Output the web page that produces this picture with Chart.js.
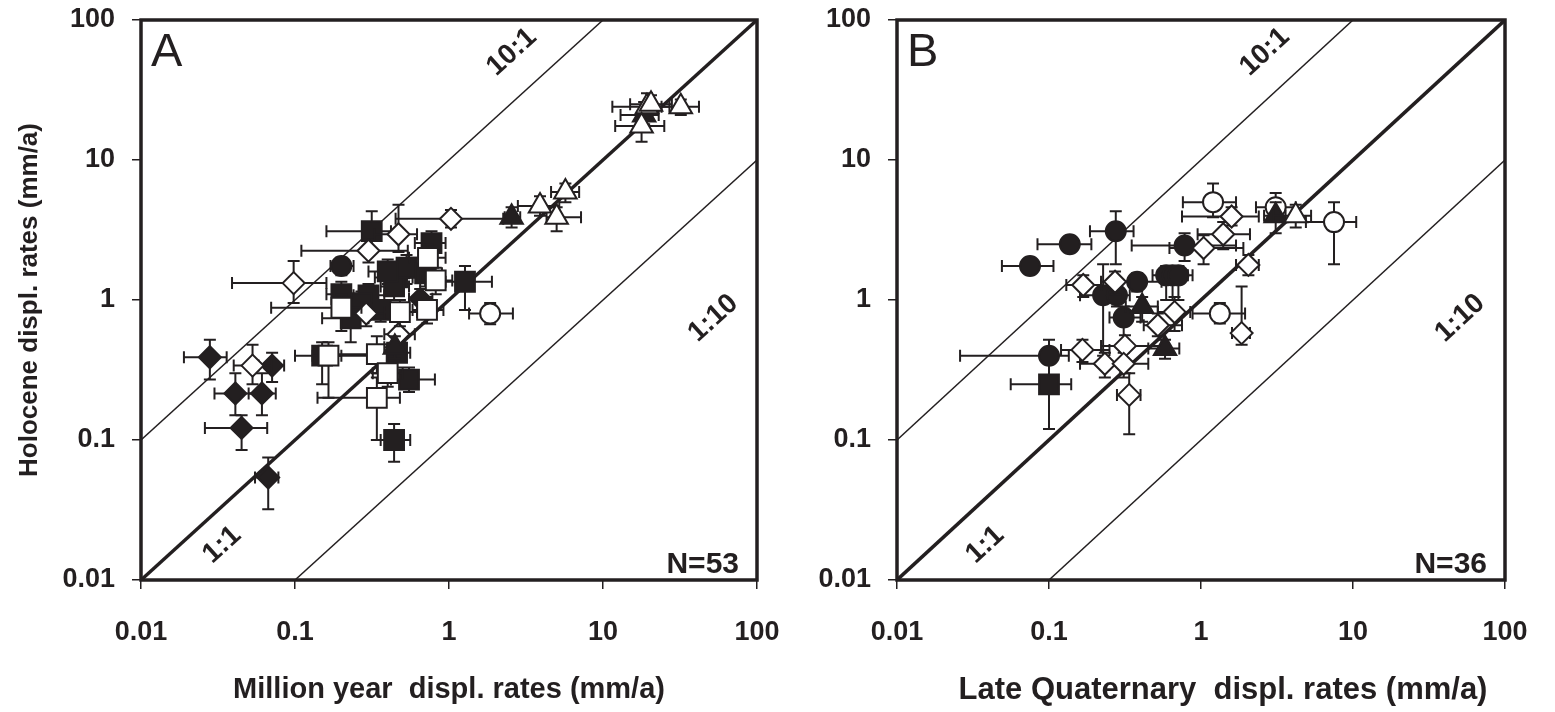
<!DOCTYPE html>
<html lang="en">
<head>
  <meta charset="UTF-8">
  <title>Holocene vs. long-term displacement rates</title>
  <script src="https://cdn.jsdelivr.net/npm/chart.js"></script>
  <style>
    body {
      margin: 0;
      background: #fff;
      width: 1555px;
      height: 712px;
      overflow: hidden;
      position: relative;
    }
    .panel { position: absolute; top: 0; }
    #panelA { left: 0; }
    #panelB { left: 800px; }
  </style>
</head>
<body>
  <div class="panel" id="panelA"><canvas id="chartA" width="800" height="712"></canvas></div>
  <div class="panel" id="panelB"><canvas id="chartB" width="755" height="712"></canvas></div>

  <script>
    // log axes, same on both panels
    const tickValues = [0.01, 0.1, 1, 10, 100];
    const tickLabels = ['0.01', '0.1', '1', '10', '100'];

    // reference lines (Holocene : long-term)
    const line1to1 = [[0.01, 0.01], [100, 100]];
    const line10to1 = [[0.01, 0.1], [10, 100]];
    const line1to10 = [[0.1, 0.01], [100, 10]];

    // each point: [x, y, xLow, xHigh, yLow, yHigh]
    // Panel A - million year rates
    const aFilledDiamond = [
      [0.028, 0.39, 0.019, 0.036, 0.27, 0.52],
      [0.071, 0.34, 0.058, 0.085, 0.26, 0.42],
      [0.041, 0.215, 0.030, 0.060, 0.15, 0.30],
      [0.061, 0.215, 0.050, 0.075, 0.15, 0.30],
      [0.045, 0.122, 0.026, 0.066, 0.085, 0.15],
      [0.067, 0.054, 0.055, 0.078, 0.032, 0.075],
      [0.65, 1.02, 0.55, 0.78, 0.85, 1.2]
    ];
    const aOpenDiamond = [
      [0.098, 1.32, 0.039, 0.16, 0.95, 1.9],
      [0.30, 2.25, 0.11, 0.54, 1.85, 2.7],
      [0.47, 2.95, 0.33, 0.62, 2.2, 4.8],
      [1.03, 3.8, 0.45, 2.25, 3.3, 4.4],
      [0.053, 0.34, 0.04, 0.07, 0.25, 0.48],
      [0.29, 0.80, 0.22, 0.38, 0.65, 0.95],
      [0.47, 0.57, 0.38, 0.60, 0.45, 0.7]
    ];
    const aFilledSquare = [
      [0.315, 3.1, 0.16, 0.42, 2.3, 4.3],
      [0.20, 1.10, 0.16, 0.26, 0.9, 1.35],
      [0.23, 0.74, 0.15, 0.30, 0.50, 0.85],
      [0.30, 1.08, 0.24, 0.38, 0.9, 1.3],
      [0.36, 0.85, 0.30, 0.43, 0.7, 1.0],
      [0.46, 1.45, 0.33, 0.58, 1.1, 1.8],
      [0.44, 1.25, 0.36, 0.55, 1.0, 1.5],
      [0.53, 1.70, 0.42, 0.68, 1.3, 2.1],
      [0.77, 2.55, 0.60, 0.95, 2.0, 3.1],
      [0.70, 1.55, 0.55, 0.90, 1.25, 1.9],
      [1.27, 1.35, 0.95, 1.9, 0.85, 1.75],
      [0.15, 0.40, 0.10, 0.20, 0.25, 0.5],
      [0.46, 0.42, 0.38, 0.56, 0.33, 0.52],
      [0.55, 0.27, 0.42, 0.81, 0.22, 0.33],
      [0.44, 0.10, 0.36, 0.56, 0.07, 0.13],
      [0.40, 1.6, 0.30, 0.50, 1.3, 1.95],
      [0.27, 0.95, 0.21, 0.34, 0.8, 1.15]
    ];
    const aOpenSquare = [
      [0.20, 0.88, 0.07, 0.27, 0.6, 1.1],
      [0.73, 2.0, 0.55, 0.95, 1.6, 2.5],
      [0.82, 1.38, 0.65, 1.05, 1.1, 1.7],
      [0.48, 0.82, 0.38, 0.62, 0.65, 1.0],
      [0.72, 0.85, 0.58, 0.92, 0.68, 1.05],
      [0.165, 0.40, 0.13, 0.36, 0.20, 0.50],
      [0.34, 0.41, 0.15, 0.45, 0.30, 0.55],
      [0.40, 0.30, 0.32, 0.50, 0.24, 0.37],
      [0.34, 0.20, 0.14, 0.48, 0.10, 0.28]
    ];
    const aFilledCircle = [
      [0.20, 1.75, 0.17, 0.24, 1.5, 2.0]
    ];
    const aOpenCircle = [
      [1.85, 0.80, 1.35, 2.6, 0.67, 0.95]
    ];
    const aFilledTriangle = [
      [2.55, 3.9, 2.3, 2.9, 3.3, 4.6],
      [0.445, 0.46, 0.38, 0.52, 0.38, 0.55],
      [18.5, 21, 13, 23, 18, 26]
    ];
    const aOpenTriangle = [
      [19.3, 24, 11.5, 27, 20, 30],
      [20.5, 25, 15, 28, 21, 29],
      [32, 24, 24, 42, 21, 27],
      [17.8, 17.5, 12, 25, 13.5, 21],
      [3.9, 4.7, 2.8, 5.2, 4.0, 5.5],
      [5.7, 5.9, 4.6, 7.0, 5.0, 6.8],
      [5.0, 3.9, 4.3, 7.2, 3.1, 4.6]
    ];

    // Panel B - late Quaternary rates
    const bFilledCircle = [
      [0.075, 1.75, 0.049, 0.107, 1.55, 1.95],
      [0.137, 2.5, 0.084, 0.19, 2.25, 2.8],
      [0.275, 3.1, 0.186, 0.36, 1.8, 4.3],
      [0.227, 1.08, 0.16, 0.30, 0.40, 1.8],
      [0.28, 1.08, 0.22, 0.34, 0.9, 1.3],
      [0.38, 1.35, 0.28, 0.55, 1.15, 1.55],
      [0.31, 0.75, 0.25, 0.40, 0.45, 0.9],
      [0.59, 1.5, 0.48, 0.75, 1.0, 1.75],
      [0.65, 1.5, 0.52, 0.82, 1.0, 1.75],
      [0.71, 1.5, 0.58, 0.88, 1.0, 1.75],
      [0.78, 2.45, 0.35, 1.7, 1.9, 3.0],
      [0.10, 0.40, 0.026, 0.135, 0.26, 0.52]
    ];
    const bFilledTriangle = [
      [0.41, 0.9, 0.32, 0.52, 0.7, 1.05],
      [0.58, 0.45, 0.45, 0.72, 0.38, 0.52],
      [3.1, 4.0, 2.6, 3.6, 3.0, 5.0]
    ];
    const bFilledSquare = [
      [0.10, 0.25, 0.056, 0.14, 0.12, 0.36]
    ];
    const bOpenCircle = [
      [1.2, 5.0, 0.76, 1.7, 3.9, 6.8],
      [3.1, 4.6, 2.3, 4.2, 3.6, 5.8],
      [7.5, 3.6, 4.9, 10.5, 1.8, 5.0],
      [1.33, 0.80, 0.88, 1.95, 0.68, 0.95]
    ];
    const bOpenTriangle = [
      [4.2, 4.0, 3.0, 5.3, 3.3, 4.8]
    ];
    const bOpenDiamond = [
      [0.168, 1.28, 0.13, 0.22, 1.05, 1.5],
      [0.272, 1.35, 0.22, 0.34, 1.1, 1.6],
      [1.04, 2.35, 0.62, 1.9, 1.8, 2.9],
      [1.59, 3.95, 0.75, 2.4, 3.4, 4.6],
      [1.4, 2.95, 0.95, 2.1, 2.3, 3.6],
      [0.67, 0.82, 0.52, 0.85, 0.60, 1.05],
      [0.52, 0.66, 0.42, 0.75, 0.55, 0.80],
      [1.85, 0.58, 1.6, 2.1, 0.48, 1.25],
      [2.05, 1.78, 1.7, 2.4, 1.5, 2.1],
      [0.166, 0.44, 0.12, 0.25, 0.36, 0.52],
      [0.316, 0.47, 0.22, 0.55, 0.30, 0.56],
      [0.233, 0.35, 0.16, 0.31, 0.28, 0.42],
      [0.31, 0.35, 0.25, 0.45, 0.28, 0.42],
      [0.337, 0.21, 0.28, 0.40, 0.11, 0.30]
    ];

    const INK = '#231f20';
    const FONT = '"Liberation Sans", Arial, Helvetica, sans-serif';
    Chart.defaults.font.family = FONT;
    Chart.defaults.color = INK;

    const markerStyles = {
      filledDiamond:  { pointStyle: 'rectRot',  radius: 11, fill: INK },
      openDiamond:    { pointStyle: 'rectRot',  radius: 11, fill: '#fff' },
      filledSquare:   { pointStyle: 'rect',     radius: 14, fill: INK },
      openSquare:     { pointStyle: 'rect',     radius: 14, fill: '#fff' },
      filledCircle:   { pointStyle: 'circle',   radius: 10, fill: INK },
      openCircle:     { pointStyle: 'circle',   radius: 10, fill: '#fff' },
      filledTriangle: { pointStyle: 'triangle', radius: 13, fill: INK },
      openTriangle:   { pointStyle: 'triangle', radius: 13, fill: '#fff' }
    };

    function series(rows, kind, order) {
      const s = markerStyles[kind];
      return {
        type: 'scatter',
        errorBars: true,
        order: order,
        data: rows.map(r => ({ x: r[0], y: r[1], xlo: r[2], xhi: r[3], ylo: r[4], yhi: r[5] })),
        pointStyle: s.pointStyle,
        pointRadius: s.radius,
        pointBackgroundColor: s.fill,
        pointBorderColor: INK,
        pointBorderWidth: 2
      };
    }

    function refLine(pts, width) {
      return {
        type: 'scatter',
        order: 100,
        showLine: true,
        data: pts.map(p => ({ x: p[0], y: p[1] })),
        borderColor: INK,
        borderWidth: width,
        pointRadius: 0
      };
    }

    // whiskers drawn just before each series' markers
    const errorBars = {
      id: 'errorBars',
      beforeDatasetDraw(chart, args) {
        const ds = chart.data.datasets[args.index];
        if (!ds.errorBars) return;
        const { ctx, scales: { x, y } } = chart;
        const cap = 6;
        ctx.save();
        ctx.strokeStyle = INK;
        ctx.lineWidth = 2;
        ds.data.forEach(p => {
          const px = x.getPixelForValue(p.x), py = y.getPixelForValue(p.y);
          const x0 = x.getPixelForValue(p.xlo), x1 = x.getPixelForValue(p.xhi);
          const y0 = y.getPixelForValue(p.ylo), y1 = y.getPixelForValue(p.yhi);
          ctx.beginPath();
          ctx.moveTo(x0, py); ctx.lineTo(x1, py);
          ctx.moveTo(x0, py - cap); ctx.lineTo(x0, py + cap);
          ctx.moveTo(x1, py - cap); ctx.lineTo(x1, py + cap);
          ctx.moveTo(px, y0); ctx.lineTo(px, y1);
          ctx.moveTo(px - cap, y0); ctx.lineTo(px + cap, y0);
          ctx.moveTo(px - cap, y1); ctx.lineTo(px + cap, y1);
          ctx.stroke();
        });
        ctx.restore();
      }
    };

    // frame, panel letter, N, ratio labels and axis titles
    const annotations = {
      id: 'annotations',
      afterDraw(chart, args, opts) {
        const { ctx, chartArea: a, scales: { x, y } } = chart;
        ctx.save();
        ctx.strokeStyle = INK;
        ctx.lineWidth = 3.5;
        ctx.strokeRect(a.left, a.top, a.right - a.left, a.bottom - a.top);

        ctx.fillStyle = INK;
        ctx.font = '47px ' + FONT;
        ctx.textAlign = 'left';
        ctx.textBaseline = 'alphabetic';
        ctx.fillText(opts.letter, a.left + 10, a.top + 46);

        ctx.font = 'bold 30px ' + FONT;
        ctx.textAlign = 'right';
        ctx.fillText(opts.count, a.right - 18, a.bottom - 7);

        const ang = Math.atan2(
          y.getPixelForValue(100) - y.getPixelForValue(0.01),
          x.getPixelForValue(100) - x.getPixelForValue(0.01));
        ctx.font = 'bold 28px ' + FONT;
        ctx.textAlign = 'center';
        ctx.textBaseline = 'middle';
        opts.ratioLabels.forEach(([txt, vx, vy]) => {
          ctx.save();
          ctx.translate(x.getPixelForValue(vx), y.getPixelForValue(vy));
          ctx.rotate(ang);
          ctx.fillText(txt, 0, 0);
          ctx.restore();
        });

        ctx.font = 'bold ' + opts.xTitleSize + 'px ' + FONT;
        ctx.fillText(opts.xTitle, (a.left + a.right) / 2 + opts.xTitleShift, 690);
        if (opts.yTitle) {
          ctx.font = 'bold 26px ' + FONT;
          ctx.save();
          ctx.translate(30, (a.top + a.bottom) / 2);
          ctx.rotate(-Math.PI / 2);
          ctx.fillText(opts.yTitle, 0, 0);
          ctx.restore();
        }
        ctx.restore();
      }
    };

    function logAxis(fitFn, pad, size) {
      return {
        type: 'logarithmic',
        min: 0.01,
        max: 100,
        afterBuildTicks: s => { s.ticks = tickValues.map(v => ({ value: v, major: true })); },
        afterFit: s => {
          fitFn(s);
          // keep label overhang from shrinking the plot area
          s.paddingLeft = s.paddingRight = s.paddingTop = s.paddingBottom = 0;
        },
        ticks: {
          padding: pad,
          color: INK,
          font: { size: size, weight: 'bold' },
          callback: v => tickLabels[tickValues.indexOf(v)]
        },
        grid: { drawOnChartArea: false, drawTicks: true, tickLength: 9, color: INK, lineWidth: 1.5 },
        border: { display: false }
      };
    }

    function makeChart(id, yWidth, rightPad, datasets, notes) {
      return new Chart(document.getElementById(id), {
        type: 'scatter',
        data: {
          datasets: [
            refLine(line1to1, 3.5),
            refLine(line10to1, 1.5),
            refLine(line1to10, 1.5)
          ].concat(datasets)
        },
        options: {
          responsive: false,
          animation: false,
          devicePixelRatio: 1,
          events: [],
          layout: { padding: { top: 20, right: rightPad, bottom: 0, left: 0 } },
          scales: {
            x: logAxis(s => { s.height = 132; }, 27, 27),
            y: logAxis(s => { s.width = yWidth; }, 17, 27)
          },
          plugins: {
            legend: { display: false },
            tooltip: { enabled: false },
            annotations: notes
          }
        },
        plugins: [errorBars, annotations]
      });
    }

    makeChart('chartA', 141, 43, [
      series(aOpenTriangle, 'openTriangle', 1),
      series(aFilledTriangle, 'filledTriangle', 2),
      series(aOpenCircle, 'openCircle', 3),
      series(aOpenSquare, 'openSquare', 4),
      series(aOpenDiamond, 'openDiamond', 5),
      series(aFilledDiamond, 'filledDiamond', 6),
      series(aFilledCircle, 'filledCircle', 7),
      series(aFilledSquare, 'filledSquare', 8)
    ], {
      letter: 'A',
      count: 'N=53',
      xTitle: 'Million year  displ. rates (mm/a)',
      xTitleSize: 29,
      xTitleShift: 0,
      yTitle: 'Holocene displ. rates (mm/a)',
      ratioLabels: [['10:1', 2.56, 59], ['1:1', 0.0336, 0.0178], ['1:10', 52, 0.74]]
    });

    makeChart('chartB', 97, 50, [
      series(bOpenTriangle, 'openTriangle', 1),
      series(bFilledTriangle, 'filledTriangle', 2),
      series(bOpenCircle, 'openCircle', 3),
      series(bOpenDiamond, 'openDiamond', 4),
      series(bFilledSquare, 'filledSquare', 5),
      series(bFilledCircle, 'filledCircle', 6)
    ], {
      letter: 'B',
      count: 'N=36',
      xTitle: 'Late Quaternary  displ. rates (mm/a)',
      xTitleSize: 31,
      xTitleShift: 22,
      yTitle: null,
      ratioLabels: [['10:1', 2.63, 59], ['1:1', 0.038, 0.0178], ['1:10', 50.6, 0.74]]
    });
  </script>
</body>
</html>
